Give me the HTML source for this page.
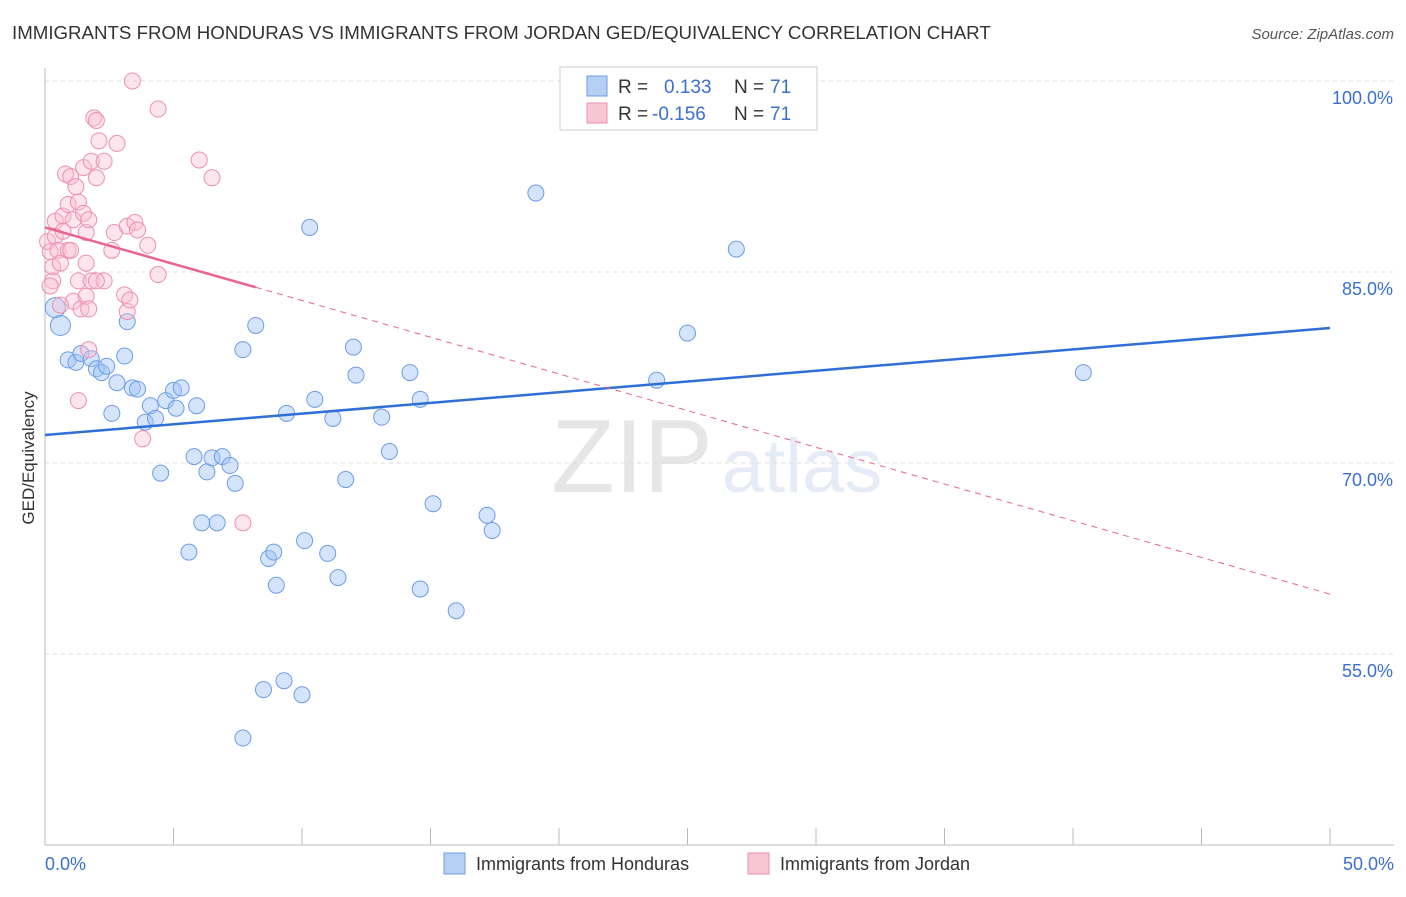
<!DOCTYPE html>
<html><head><meta charset="utf-8"><style>
body{margin:0;background:#fff;font-family:"Liberation Sans",sans-serif}
svg text{font-family:"Liberation Sans",sans-serif}
</style></head><body>
<svg id="chart" width="1406" height="892" xmlns="http://www.w3.org/2000/svg">
<text x="12" y="39" font-size="18.7" fill="#333">IMMIGRANTS FROM HONDURAS VS IMMIGRANTS FROM JORDAN GED/EQUIVALENCY CORRELATION CHART</text>
<text x="1394" y="39" font-size="15" fill="#555" text-anchor="end" font-style="italic">Source: ZipAtlas.com</text>
<text transform="translate(34,458) rotate(-90)" font-size="17" fill="#333" text-anchor="middle">GED/Equivalency</text>
<g opacity="0.18">
<text x="632" y="492" font-size="104" fill="#777" text-anchor="middle" font-family="Liberation Serif">ZIP</text>
<text x="802" y="492" font-size="76" fill="#7a9ad8" text-anchor="middle">atlas</text>
</g>
<g id="grid"></g><g id="axes"></g><g id="pts"></g><g id="trends"></g>
<g>
<rect x="560" y="67" width="257" height="63" fill="#fff" stroke="#ccc"/>
<rect x="587" y="76" width="20" height="20" fill="#b5cff5" stroke="#6d9ce8"/>
<text x="618" y="93" font-size="19" fill="#333">R = </text><text x="664" y="93" font-size="19" fill="#3a6fd0">0.133</text>
<text x="734" y="93" font-size="19" fill="#333">N = </text><text x="770" y="93" font-size="19" fill="#3a6fd0">71</text>
<rect x="587" y="103" width="20" height="20" fill="#f8c5d5" stroke="#ee8fae"/>
<text x="618" y="120" font-size="19" fill="#333">R = </text><text x="652" y="120" font-size="19" fill="#3a6fd0">-0.156</text>
<text x="734" y="120" font-size="19" fill="#333">N = </text><text x="770" y="120" font-size="19" fill="#3a6fd0">71</text>
</g>
<g>
<rect x="444" y="853" width="21" height="21" fill="#b5cff5" stroke="#6d9ce8"/>
<text x="476" y="870" font-size="18" fill="#333">Immigrants from Honduras</text>
<rect x="748" y="853" width="21" height="21" fill="#f8c5d5" stroke="#ee8fae"/>
<text x="780" y="870" font-size="18" fill="#333">Immigrants from Jordan</text>
</g>
</svg>
<script>
const yTicks=[100,85,70,55];
const xTickLabels=["0.0%","50.0%"];
const hondurasX=[0.4,0.6,0.9,1.2,1.4,1.8,2.0,2.2,2.4,2.6,2.8,3.1,3.2,3.4,3.6,3.9,4.1,4.3,4.5,4.7,5.0,5.1,5.3,5.6,5.8,5.9,6.1,6.3,6.5,6.7,6.9,7.2,7.4,7.7,7.7,8.2,8.5,8.7,8.9,9.0,9.3,9.4,10.0,10.1,10.3,10.5,11.0,11.2,11.4,11.7,12.0,12.1,13.1,13.4,14.2,14.6,14.6,15.1,16.0,17.2,17.4,19.1,23.8,25.0,26.9,40.4,24.5,28.2];
const hondurasY=[82.2,80.8,78.1,77.9,78.6,78.2,77.4,77.1,77.6,73.9,76.3,78.4,81.1,75.9,75.8,73.2,74.5,73.5,69.2,74.9,75.7,74.3,75.9,63.0,70.5,74.5,65.3,69.3,70.4,65.3,70.5,69.8,68.4,48.4,78.9,80.8,52.2,62.5,63.0,60.4,52.9,73.9,51.8,63.9,88.5,75.0,62.9,73.5,61.0,68.7,79.1,76.9,73.6,70.9,77.1,60.1,75.0,66.8,58.4,65.9,64.7,91.2,76.5,80.2,86.8,77.1,100,100];
const jordanX=[0.1,0.2,0.3,0.3,0.4,0.4,0.5,0.6,0.7,0.7,0.8,0.9,0.9,1.0,1.1,1.1,1.2,1.3,1.3,1.4,1.5,1.5,1.6,1.6,1.7,1.7,1.8,1.8,1.9,2.0,2.0,2.1,2.3,2.3,2.6,2.7,2.8,3.1,3.2,3.2,3.3,3.4,3.5,3.6,3.8,4.0,4.4,4.4,6.0,6.5,7.7,1.3,0.6,1.0,1.6,2.0,1.7,0.2];
const jordanY=[87.4,86.6,85.4,84.3,89.0,87.8,86.7,85.7,89.4,88.2,92.7,86.7,90.3,92.5,89.1,82.7,91.7,90.5,84.3,82.1,89.6,93.2,83.1,85.7,78.9,82.1,93.7,84.3,97.1,92.4,96.9,95.3,84.3,93.7,86.7,88.1,95.1,83.2,88.6,81.9,82.8,100,88.9,88.3,71.9,87.1,84.8,97.8,93.8,92.4,65.3,74.9,82.4,86.7,88.1,84.3,89.1,83.9];
const X=v=>45+v/50*1285, Y=v=>81+(100-v)/15*191;
const ns="http://www.w3.org/2000/svg";
function mk(t,a,p){const e=document.createElementNS(ns,t);for(const k in a)e.setAttribute(k,a[k]);document.getElementById(p).appendChild(e);return e;}
yTicks.forEach(v=>{
 const l=mk('line',{x1:45,x2:1394,y1:Y(v),y2:Y(v),stroke:'#ddd','stroke-dasharray':'4,4'},'grid');
 
 
 const t=mk('text',{x:1393,y:Y(v)+23,'font-size':18,fill:'#3a6fd0','text-anchor':'end'},'grid');t.textContent=v.toFixed(1)+'%';
 
 
});
const ax=mk('line',{x1:45,x2:45,y1:68,y2:845,stroke:'#bbb'},'axes');


const bx=mk('line',{x1:45,x2:1394,y1:845,y2:845,stroke:'#bbb'},'axes');


for(let i=0;i<=10;i++){const t=mk('line',{x1:X(i*5),x2:X(i*5),y1:828,y2:845,stroke:'#bbb'},'axes');
 
 }
xTickLabels.forEach((s,i)=>{const t=mk('text',{x:i?1394:45,y:870,'font-size':18,fill:'#3a6fd0','text-anchor':i?'end':'start'},'axes');t.textContent=s;
 
 });
hondurasX.forEach((v,i)=>{const c=mk('circle',{cx:X(v),cy:Y(hondurasY[i]),r:i<2?10:8,fill:'rgba(160,195,245,0.45)',stroke:'#6d9ce8','stroke-width':1},'pts');
 
 });
jordanX.forEach((v,i)=>{const c=mk('circle',{cx:X(v),cy:Y(jordanY[i]),r:8,fill:'rgba(248,190,210,0.4)',stroke:'#ee8fae','stroke-width':1},'pts');
 
 });
const l1=mk('line',{x1:X(0),y1:Y(72.2),x2:X(50),y2:Y(80.6),stroke:'#2f6fd6','stroke-width':2.5},'trends');


const l2=mk('line',{x1:X(0),y1:Y(88.5),x2:X(8.2),y2:Y(83.8),stroke:'#e8648f','stroke-width':2.5},'trends');


const l3=mk('line',{x1:X(8.2),y1:Y(83.8),x2:X(50),y2:Y(59.7),stroke:'#e8648f','stroke-width':1,'stroke-dasharray':'6,5'},'trends');


</script>
</body></html>
